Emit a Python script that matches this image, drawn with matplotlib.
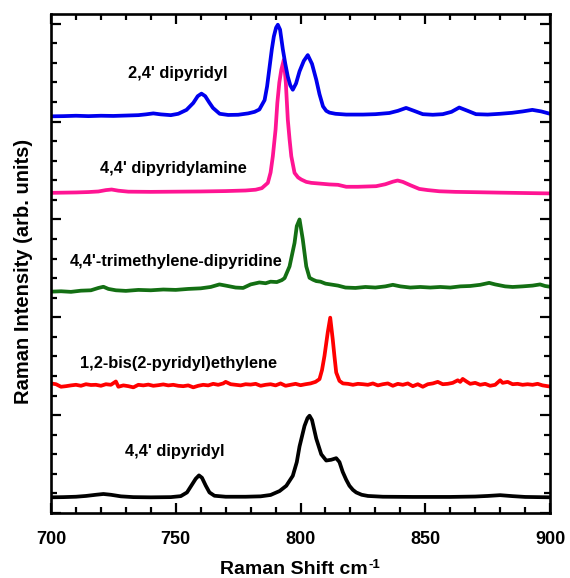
import numpy as np
import matplotlib
matplotlib.use('Agg')
import matplotlib.pyplot as plt
from matplotlib.ticker import MultipleLocator

plt.rcParams['font.family'] = ['Liberation Sans', 'DejaVu Sans']
plt.rcParams['font.weight'] = 'bold'

# 4,4' dipyridyl (black, bottom)
bk_x = [700, 705, 710, 714, 718, 721, 724, 728, 733, 740, 748, 752, 754.5, 756.5, 758, 759.3, 760.5, 762, 763.5,
        765.5, 770, 778, 784, 788, 791.6, 794.3, 796.9, 798.5, 799.6, 801.6, 802.8, 803.6, 804.6, 806.3, 808.3,
        810.3, 812.3, 814.3, 815.6, 816.9, 818.3, 819.6, 821, 822.3, 824.5, 827, 833, 845, 860, 870, 875, 880,
        885, 890, 900]
bk_y = [0.80, 0.81, 0.83, 0.87, 0.93, 0.97, 0.93, 0.85, 0.81, 0.80, 0.81, 0.86, 1.05, 1.45, 1.75, 1.92, 1.80, 1.40,
        1.05, 0.88, 0.83, 0.83, 0.85, 0.92, 1.12, 1.39, 1.90, 2.60, 3.40, 4.45, 4.85, 4.97, 4.75, 3.80, 3.00, 2.68,
        2.72, 2.80, 2.60, 2.10, 1.70, 1.39, 1.18, 1.05, 0.93, 0.87, 0.83, 0.82, 0.82, 0.84, 0.87, 0.91, 0.86, 0.82,
        0.80]

# 1,2-bis(2-pyridyl)ethylene (red)
rd_x = [700, 702, 704, 706, 708, 710, 712, 714, 716, 718, 720, 722, 724, 726, 727, 729, 731, 733, 735, 737, 739,
        741, 743, 745, 747, 749, 751, 753, 755, 757, 759, 761, 763, 765, 767, 769, 770, 772, 774, 776, 778, 780,
        782, 784, 786, 788, 790, 792, 794, 796, 798, 800, 802, 804, 806, 807.6, 808.6, 809.6, 810.9, 811.9, 812.9,
        813.6, 814.3, 815.6, 817, 819, 821, 823, 825, 827, 829, 831, 833, 835, 837, 839, 841, 843, 845, 847, 849,
        851, 853, 855, 857, 859, 861, 863, 864, 865, 866.5, 868, 870, 872, 874, 876, 878, 880, 881, 883, 885, 887,
        889, 891, 893, 895, 897, 899, 900]
rd_y = [6.62, 6.58, 6.45, 6.48, 6.52, 6.55, 6.50, 6.58, 6.54, 6.55, 6.50, 6.58, 6.55, 6.72, 6.45, 6.52, 6.48, 6.42,
        6.55, 6.52, 6.56, 6.50, 6.53, 6.57, 6.52, 6.55, 6.50, 6.48, 6.52, 6.42, 6.50, 6.55, 6.52, 6.60, 6.55, 6.62,
        6.70, 6.58, 6.55, 6.52, 6.58, 6.56, 6.60, 6.50, 6.55, 6.58, 6.52, 6.62, 6.50, 6.55, 6.60, 6.53, 6.58, 6.62,
        6.70, 6.84, 7.30, 8.03, 9.22, 9.98, 8.88, 8.00, 7.18, 6.75, 6.62, 6.60, 6.55, 6.60, 6.58, 6.55, 6.62, 6.52,
        6.58, 6.62, 6.50, 6.60, 6.55, 6.62, 6.48, 6.58, 6.45, 6.58, 6.62, 6.70, 6.58, 6.60, 6.65, 6.78, 6.70, 6.85,
        6.72, 6.60, 6.65, 6.55, 6.60, 6.50, 6.55, 6.78, 6.65, 6.70, 6.58, 6.60, 6.55, 6.58, 6.55, 6.60, 6.52, 6.48,
        6.46]

# 4,4'-trimethylene-dipyridine (green)
gr_x = [700, 704, 708, 712, 716, 719, 721, 723, 726, 730, 735, 740, 745, 750, 755, 760, 764, 767.5, 770, 774, 777,
        780, 783.5, 786, 788, 790.5, 792.5, 793.6, 795.6, 797.6, 798.5, 799.6, 800.9, 802.3, 803.6, 805, 806.3, 808,
        810, 812, 815, 818, 822, 826, 830, 834, 837, 840, 844, 848, 852, 856, 860, 864, 868, 872, 875.6, 878, 882,
        885, 889, 893, 896, 898, 900]
gr_y = [11.31, 11.33, 11.30, 11.36, 11.38, 11.50, 11.56, 11.45, 11.38, 11.35, 11.40, 11.38, 11.42, 11.40, 11.45,
        11.48, 11.55, 11.68, 11.62, 11.52, 11.50, 11.68, 11.78, 11.74, 11.82, 11.80, 11.90, 12.00, 12.60, 13.80,
        14.66, 15.00, 13.98, 12.60, 12.02, 11.92, 11.85, 11.82, 11.72, 11.68, 11.62, 11.52, 11.50, 11.55, 11.52,
        11.58, 11.66, 11.58, 11.52, 11.55, 11.52, 11.55, 11.52, 11.58, 11.60, 11.66, 11.76, 11.68, 11.58, 11.55,
        11.58, 11.62, 11.68, 11.60, 11.56]

# 4,4' dipyridylamine (pink)
pk_x = [700, 705, 710, 715, 719, 722, 724.3, 727, 731, 740, 750, 760, 770, 778, 782, 784.5, 786.9, 788, 788.9, 790,
        790.7, 791.5, 792.3, 793.3, 794.1, 794.9, 795.6, 796.3, 797.6, 799, 800.3, 802.3, 804.3, 808, 811.6, 815,
        818.3, 823, 830.3, 834, 837, 838.9, 841, 844, 847.6, 851, 855.6, 862, 871.6, 880, 890, 900]
pk_y = [16.36, 16.37, 16.38, 16.40, 16.43, 16.50, 16.53, 16.47, 16.42, 16.41, 16.42, 16.43, 16.45, 16.48, 16.52,
        16.60, 16.87, 17.40, 18.23, 19.60, 20.95, 22.00, 22.65, 23.16, 22.00, 20.10, 19.10, 18.23, 17.38, 17.15,
        17.04, 16.92, 16.87, 16.83, 16.79, 16.77, 16.67, 16.67, 16.70, 16.80, 16.93, 16.99, 16.92, 16.75, 16.56,
        16.50, 16.44, 16.41, 16.39, 16.37, 16.35, 16.33]

# 2,4' dipyridyl (blue, top)
bl_x = [700, 705, 710, 715, 720, 725, 730, 735, 738, 741, 744, 748, 751, 754.3, 757, 758.8, 760.3, 761.8, 763.4,
        764.9, 767.6, 771, 775, 779, 781.6, 783.5, 785.6, 786.6, 787.6, 788.5, 789.3, 790.2, 790.9, 791.8, 792.9,
        793.9, 794.9, 795.9, 796.9, 798.2, 799.6, 801.3, 802.9, 804.6, 806.3, 807.6, 809, 810.3, 811.6, 814, 818.3,
        825, 830, 835.6, 839, 842.3, 845.5, 849, 853, 857, 860.5, 863.6, 867, 870.3, 875, 880, 884.8, 889, 892.9,
        896.5, 900]
bl_y = [20.27, 20.28, 20.30, 20.28, 20.30, 20.29, 20.31, 20.33, 20.37, 20.42, 20.37, 20.33, 20.40, 20.60, 20.95,
        21.30, 21.43, 21.30, 20.98, 20.70, 20.40, 20.34, 20.35, 20.42, 20.50, 20.62, 21.10, 21.80, 22.80, 23.70,
        24.35, 24.80, 24.95, 24.70, 23.70, 22.95, 22.30, 21.85, 21.63, 21.95, 22.57, 23.10, 23.40, 22.95, 22.14,
        21.40, 20.78, 20.55, 20.46, 20.40, 20.36, 20.36, 20.38, 20.44, 20.55, 20.70, 20.55, 20.38, 20.35, 20.38,
        20.50, 20.72, 20.55, 20.38, 20.36, 20.40, 20.45, 20.52, 20.60, 20.52, 20.40]

labels = ["4,4' dipyridyl", "1,2-bis(2-pyridyl)ethylene", "4,4'-trimethylene-dipyridine",
          "4,4' dipyridylamine", "2,4' dipyridyl"]
label_x = [749.6, 751.2, 750.3, 749.2, 750.8]
label_y = [3.12, 7.66, 12.83, 17.58, 22.45]
colors = ['black', '#ff0000', '#136f13', '#ff1493', '#0000ee']

fig = plt.figure(figsize=(5.7, 5.78), dpi=100)
ax = fig.add_axes([0.0895, 0.1125, 0.8755, 0.8633])

series = [(bk_x, bk_y), (rd_x, rd_y), (gr_x, gr_y), (pk_x, pk_y), (bl_x, bl_y)]
for (xs, ys), c in zip(series, colors):
    ax.plot(xs, ys, color=c, lw=2.7, solid_joinstyle='round', solid_capstyle='round')

for t, tx, ty in zip(labels, label_x, label_y):
    ax.text(tx, ty, t, ha='center', va='center', fontsize=11.8, fontweight='bold')

ax.set_xlim(700, 900)
ax.set_ylim(0, 25.5)
ax.xaxis.set_major_locator(MultipleLocator(50))
ax.xaxis.set_minor_locator(MultipleLocator(10))
ax.yaxis.set_major_locator(MultipleLocator(5))
ax.yaxis.set_minor_locator(MultipleLocator(1))
ax.tick_params(which='both', direction='in', top=True, right=True, width=1.6)
ax.tick_params(which='major', length=7.5, pad=13, labelsize=13)
ax.tick_params(which='minor', length=4.5)
ax.set_yticklabels([])
for s in ax.spines.values():
    s.set_linewidth(1.9)
for lb in ax.get_xticklabels():
    lb.set_fontweight('bold')

ax.set_xlabel('Raman Shift cm', fontsize=14, fontweight='bold')
ax.xaxis.set_label_coords(0.487, -0.097)
ax.annotate('-1', xy=(1, 1), xycoords=ax.xaxis.label, xytext=(0.5, 2), textcoords='offset points',
            fontsize=9.5, fontweight='bold', ha='left', va='top')
ax.set_ylabel('Raman Intensity (arb. units)', fontsize=14.5, fontweight='bold')
ax.yaxis.set_label_coords(-0.037, 0.485)

plt.savefig('out.png', dpi=100)
